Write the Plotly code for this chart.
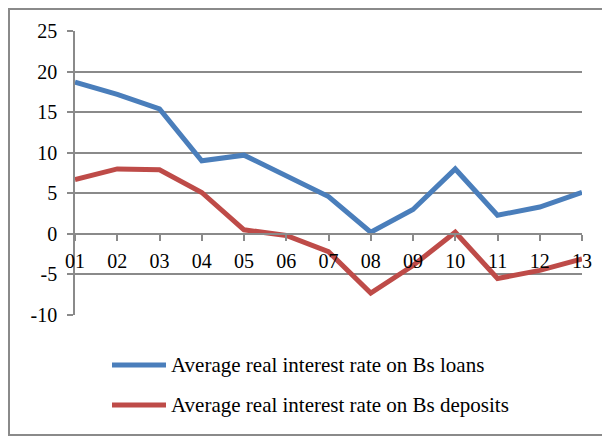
import plotly.graph_objects as go

# ---- data ----
years = ["01", "02", "03", "04", "05", "06", "07", "08", "09", "10", "11", "12", "13"]
loans = [18.7, 17.2, 15.4, 9.0, 9.7, 7.2, 4.6, 0.2, 3.0, 8.0, 2.3, 3.3, 5.1]
deposits = [6.7, 8.0, 7.9, 5.1, 0.5, -0.2, -2.2, -7.3, -3.9, 0.2, -5.5, -4.5, -3.1]
names = ["Average real interest rate on Bs loans",
         "Average real interest rate on Bs deposits"]
colors = ["#4A7EBB", "#BE4B48"]
ytick_vals = [-10, -5, 0, 5, 10, 15, 20, 25]
ytick_text = ["-10", "-5", "0", "5", "10", "15", "20", "25"]

yr = [-10, 25]
grid = "#8a8a8a"
font = "Liberation Serif, Times New Roman, serif"

fig = go.Figure()
for vals, name, col in zip([loans, deposits], names, colors):
    fig.add_trace(go.Scatter(x=years, y=vals, name=name, mode="lines",
                             line=dict(color=col, width=5), showlegend=False))

# ---- layout (page body has an 8px margin, so coordinates are shifted) ----
W, H = 610, 436
L, R, T, B = 67, 36, 23, 129
pw, ph = W - L - R, H - T - B

fig.update_layout(
    width=W, height=H,
    margin=dict(l=L, r=R, t=T, b=B),
    plot_bgcolor="white", paper_bgcolor="white",
    font=dict(family=font, size=20, color="black"),
)

fig.update_yaxes(range=yr, tickvals=ytick_vals, ticktext=ytick_text,
                 tickfont=dict(family=font, size=20),
                 showgrid=True, gridcolor=grid, gridwidth=1.5,
                 showline=True, linecolor=grid, linewidth=1.5,
                 ticks="outside", ticklen=6, tickcolor=grid, tickwidth=1.5,
                 ticklabelstandoff=6, zeroline=False)
fig.update_xaxes(type="category", range=[0, len(years) - 1], showgrid=False,
                 tickfont=dict(family=font, size=20),
                 anchor="free", position=(0 - yr[0]) / (yr[1] - yr[0]),
                 showline=True, linecolor=grid, linewidth=1.5,
                 ticks="outside", ticklen=6, tickcolor=grid, tickwidth=1.5,
                 ticklabelstandoff=3)

# ---- outer border ----
def px(x):
    return (x - L) / pw

def py(y):
    return (H - B - y) / ph

fig.add_shape(type="rect", xref="paper", yref="paper",
              x0=px(1), x1=px(601), y0=py(427), y1=py(1),
              line=dict(color="#8a8a8a", width=2), layer="below")

# ---- legend ----
for i, (name, col) in enumerate(zip(names, colors)):
    yy = 357 + i * 40
    fig.add_shape(type="line", xref="paper", yref="paper",
                  x0=px(104), x1=px(158), y0=py(yy), y1=py(yy),
                  line=dict(color=col, width=5))
    fig.add_annotation(xref="paper", yref="paper", x=px(161), y=py(yy),
                       text=name, showarrow=False, xanchor="left", yanchor="middle",
                       font=dict(family=font, size=21, color="black"))

fig.write_html("out.html")
